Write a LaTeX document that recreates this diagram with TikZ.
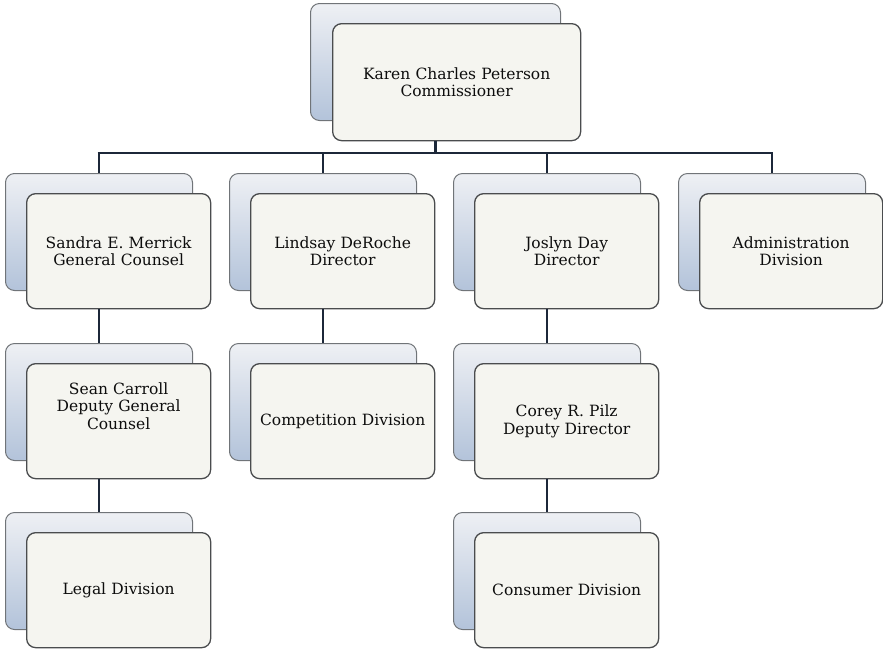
\documentclass[tikz,border=0pt]{standalone}
\usepackage{fontspec}
\setmainfont{DejaVu Serif}
\definecolor{bktop}{HTML}{EEF0F4}
\definecolor{bkbot}{HTML}{B3C3DA}
\definecolor{bkline}{HTML}{707478}
\definecolor{frfill}{HTML}{F5F5F0}
\definecolor{frline}{HTML}{4A4C4E}
\definecolor{conncol}{HTML}{1C2739}
\tikzset{
  backbox/.style={draw=bkline, line width=1pt, rounded corners=9pt, top color=bktop, bottom color=bkbot,
    minimum width=187pt, minimum height=117pt, anchor=north west, inner sep=0pt},
  frontbox/.style={draw=frline, line width=1.3pt, rounded corners=9pt, fill=frfill,
    minimum width=184pt, minimum height=115pt, anchor=north west, inner sep=0pt,
    align=center, text width=178pt, font=\fontsize{15.5}{17.5}\selectfont, text=black!95},
  txt/.style={align=center, text width=178pt, font=\fontsize{15.5}{17.5}\selectfont, text=black!95},
  conn/.style={draw=conncol, line width=2.8pt}
}
\begin{document}
\begin{tikzpicture}[x=1pt,y=-1pt]
\fill[white] (0,0) rectangle (883,649);
\useasboundingbox (0,0) rectangle (883,649);
% top
\node[backbox, minimum width=250pt] (tb) at (310,3) {};
\node[frontbox, minimum width=248pt, minimum height=117pt, text width=236pt] (t) at (332,23) {Karen Charles Peterson\\Commissioner};
% row 2
\node[backbox] (sb) at (5,173) {};
\node[frontbox] (s) at (26,193) {Sandra E. Merrick\\General Counsel};
\node[backbox] (lb) at (229,173) {};
\node[frontbox] (l) at (250,193) {Lindsay DeRoche\\Director};
\node[backbox] (jb) at (453,173) {};
\node[frontbox] (j) at (474,193) {Joslyn Day\\Director};
\node[backbox] (ab) at (678,173) {};
\node[frontbox, minimum width=183pt] (a) at (699,193) {Administration\\Division};
% row 3
\node[backbox] (scb) at (5,343) {};
\node[frontbox] (sc) at (26,363) {};
\node[txt] (sct) at ([yshift=15pt]sc.center) {Sean Carroll\\Deputy General\\Counsel};
\node[backbox] (cb) at (229,343) {};
\node[frontbox] (c) at (250,363) {Competition Division};
\node[backbox] (cpb) at (453,343) {};
\node[frontbox] (cp) at (474,363) {Corey R. Pilz\\Deputy Director};
% row 4
\node[backbox] (ldb) at (5,512) {};
\node[frontbox] (ld) at (26,532) {Legal Division};
\node[backbox] (cdb) at (453,512) {};
\node[frontbox] (cd) at (474,532) {Consumer Division};
% connectors
\coordinate (bar) at (0,153);
\draw[conn] (tb.center |- t.south) -- (tb.center |- bar);
\draw[conn] ([xshift=-1.4pt]sb.north |- bar) -- ([xshift=1.4pt]ab.north |- bar);
\draw[conn] (sb.north |- bar) -- (sb.north);
\draw[conn] (lb.north |- bar) -- (lb.north);
\draw[conn] (jb.north |- bar) -- (jb.north);
\draw[conn] (ab.north |- bar) -- (ab.north);
\draw[conn] (sb.center |- s.south) -- (scb.north);
\draw[conn] (lb.center |- l.south) -- (cb.north);
\draw[conn] (jb.center |- j.south) -- (cpb.north);
\draw[conn] (scb.center |- sc.south) -- (ldb.north);
\draw[conn] (cpb.center |- cp.south) -- (cdb.north);
\end{tikzpicture}
\end{document}
